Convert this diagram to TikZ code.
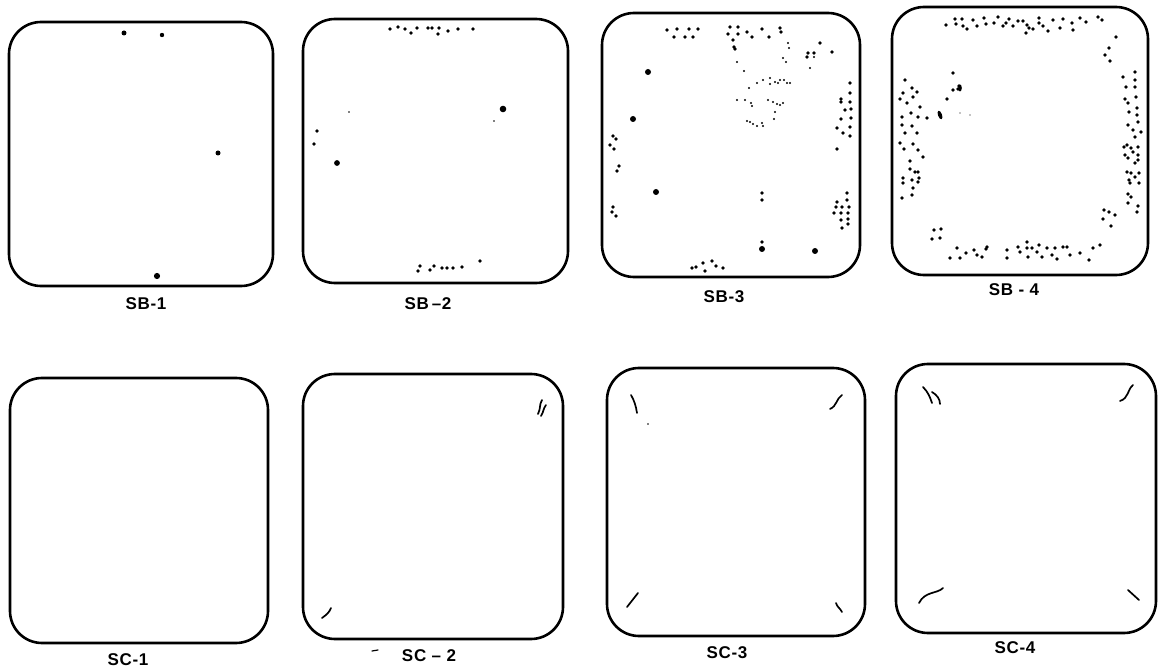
\documentclass[tikz,border=0pt]{standalone}
\usepackage{fontspec}
\newfontfamily\labfont[LetterSpace=4]{Liberation Sans}
\begin{document}
\begin{tikzpicture}[x=1pt,y=-1pt,
  dish/.style={draw=black, line width=2.6pt, rounded corners=32pt, minimum width=#1, inner sep=0pt},
  lab/.style={font=\labfont\bfseries\fontsize{17}{17}\selectfont, inner sep=0pt},
  scar/.style={line width=1.7pt, line cap=round}]
\useasboundingbox (0,0) rectangle (1163,671);
\fill[white] (0,0) rectangle (1163,671);
% ---- boxes ----
\node[dish=264pt, minimum height=264pt] (sb1) at (141,154) {};
\node[dish=265pt, minimum height=264pt] (sb2) at (435.5,151) {};
\node[dish=258pt, minimum height=264pt] (sb3) at (731,145) {};
\node[dish=256pt, minimum height=268pt] (sb4) at (1020,141) {};
\node[dish=258pt, minimum height=265pt] (sc1) at (139,510.5) {};
\node[dish=260pt, minimum height=265pt] (sc2) at (433,506.5) {};
\node[dish=258pt, minimum height=268pt] (sc3) at (736,502) {};
\node[dish=260pt, minimum height=269pt] (sc4) at (1026,498.5) {};
% ---- labels ----
\node[lab] (lsb1) at (146,304) {SB-1};
\node[lab] (lsb2) at (428,304) {SB\,–2};
\node[lab] (lsb3) at (724,297) {SB-3};
\node[lab] (lsb4) at (1014,290) {SB - 4};
\node[lab] (lsc1) at (128,660) {SC-1};
\node[lab] (lsc2) at (429,656) {SC – 2};
\node[lab] (lsc3) at (727,653) {SC-3};
\node[lab] (lsc4) at (1015,648) {SC-4};
% ---- SB-1 dots ----
\foreach \x/\y/\r in {124/33/2.5, 162/35/2.2, 218/153/2.5, 157/276/3.1}
  \fill (\x,\y) circle (\r pt);
% ---- SB-2 dots ----
\foreach \x/\y in {390/29,398/27,405/29,411/33,417/28,428/28,432/28,439/28,438/34,448/31,458/29,473/29,
  317/131,314/144,480/261,420/266,418/271,430/270,434/266,442/268,447/268,453/268,462/267}
  \fill (\x,\y) circle (1.9pt);
\fill (503,109) circle (3.3pt);
\fill (337,163) circle (2.9pt);
\fill (349,112) circle (0.9pt);
\fill (494,121) circle (0.8pt);
% ---- SB-3 dots ----
\foreach \x/\y in {667/30,677/29,689/29,698/29,674/37,685/37,693/37,
  730/27,738/27,728/34,738/34,747/32,752/37,733/40,734/47,735/49,762/29,769/37,780/28,781/32,
  808/53,807/57,814/53,820/43,832/52,
  613/136,616/139,610/145,614/149,619/166,617/171,613/207,612/212,616/216,
  762/193,762/200,762/242,
  850/83,850/93,841/99,841/102,850/102,845/110,851/109,841/119,851/118,837/128,850/127,843/133,850/136,837/149,
  847/193,847/200,837/202,836/207,842/207,849/207,834/213,841/213,848/213,841/220,848/219,848/224,842/228,
  692/268,696/267,703/263,705/271,712/261,716/266,723/268}
  \fill (\x,\y) circle (1.9pt);
\foreach \x/\y in {648/72,633/119,656/192,815/251,762/249}
  \fill (\x,\y) circle (3pt);
\foreach \x/\y in {788/43,789/48,783/58,786/62,810/68,737/62,744/71,
  749/88,757/83,763/80,770/78,775/82,780/80,784/80,787/83,790/83,778/83,770/84,
  737/100,745/100,751/103,752/106,768/100,773/102,777/104,780/105,783/103,775/112,774/119,
  747/121,750/122,753/124,757/126,762/123,763/126,814/57}
  \fill (\x,\y) circle (1.1pt);
% ---- SB-4 dots ----
\foreach \x/\y in {946/25,955/19,956/24,962/19,963/26,967/29,973/20,977/26,984/18,986/24,994/23,998/17,
  1003/26,1006/23,1009/19,1013/26,1018/21,1023/21,1027/25,1026/33,1029/28,1033/29,1039/18,1039/23,
  1043/26,1048/31,1053/20,1060/28,1063/19,1072/23,1073/30,1080/18,1086/22,1098/17,1102/20,1116/37,
  1109/48,1105/55,1110/61,
  1135/72,1123/77,1135/80,1135/87,1126/87,1136/97,1125/99,1128/103,1137/108,1129/112,1137/115,
  1128/125,1138/122,1133/130,1141/132,1135/137,1127/145,1124/147,1131/148,1138/147,1133/152,
  1138/155,1125/155,1128/158,1135/163,1138/160,1127/172,1131/173,1139/173,1135/177,1129/180,
  1130/183,1139/183,1128/194,1131/197,1128/203,1138/206,1137/212,
  1104/210,1109/212,1115/215,1103/219,1111/226,
  905/80,912/88,903/93,917/92,913/97,900/99,907/103,920/107,911/113,902/117,918/117,927/118,
  902/125,912/126,905/133,917/133,900/143,913/144,904/149,918/150,923/157,910/161,910/169,
  915/172,918/172,903/178,912/180,919/178,918/182,903/183,913/188,912/195,902/198,
  953/73,959/86,958/89,953/90,947/99,
  934/230,941/229,932/239,940/238,
  957/248,950/258,960/258,966/253,974/250,977/255,982/257,987/247,986/249,1007/250,1007/258,
  1018/247,1020/252,1027/242,1027/248,1028/257,1032/248,1037/252,1039/245,1042/257,1047/248,
  1052/255,1055/248,1057/259,1063/247,1067/247,1070/255,1080/253,1089/260,1093/248,1100/245}
  \fill (\x,\y) circle (1.9pt);
\fill[rotate around={20:(940,115)}] (940,115) ellipse (2pt and 4.5pt);
\fill (960,88) ellipse (1.8pt and 3.5pt);
\fill (960,113) circle (0.6pt);
\fill (970,115) circle (0.6pt);
% ---- SC-2 marks ----
\coordinate (a1) at (542,400); \coordinate (a2) at (538,414);
\coordinate (b1) at (546,405); \coordinate (b2) at (541,416);
\draw[scar] (a1) .. controls (539,405) and (541,408) .. (a2);
\draw[scar] (b1) .. controls (543,409) and (544,411) .. (b2);
\coordinate (c1) at (322,618); \coordinate (c2) at (331,608);
\draw[scar] (c1) .. controls (326,615) and (329,613) .. (c2);
\coordinate (d1) at (372,651); \coordinate (d2) at (378,650);
\draw[line width=1.2pt, line cap=round] (d1) -- (d2);
% ---- SC-3 marks ----
\coordinate (e1) at (631,395); \coordinate (e2) at (637,413);
\draw[scar] (e1) .. controls (634,400) and (636,406) .. (e2);
\coordinate (f1) at (842,395); \coordinate (f2) at (830,409);
\draw[scar] (f1) .. controls (836,399) and (837,406) .. (f2);
\coordinate (g1) at (638,593); \coordinate (g2) at (627,607);
\draw[scar] (g1) .. controls (634,598) and (631,602) .. (g2);
\coordinate (h1) at (836,603); \coordinate (h2) at (842,612);
\draw[scar] (h1) .. controls (837,607) and (840,608) .. (h2);
\fill (648,424) circle (0.9pt);
% ---- SC-4 marks ----
\coordinate (i1) at (923,387); \coordinate (i2) at (932,403);
\draw[scar] (i1) .. controls (928,392) and (930,397) .. (i2);
\coordinate (j1) at (932,392); \coordinate (j2) at (940,404);
\draw[scar] (j1) .. controls (937,395) and (940,399) .. (j2);
\coordinate (k1) at (1133,385); \coordinate (k2) at (1120,401);
\draw[scar] (k1) .. controls (1127,390) and (1129,398) .. (k2);
\coordinate (l1) at (943,588); \coordinate (l2) at (919,603);
\draw[scar] (l1) .. controls (937,594) and (925,591) .. (l2);
\coordinate (m1) at (1128,590); \coordinate (m2) at (1139,600);
\draw[scar] (m1) -- (m2);
\end{tikzpicture}
\end{document}
